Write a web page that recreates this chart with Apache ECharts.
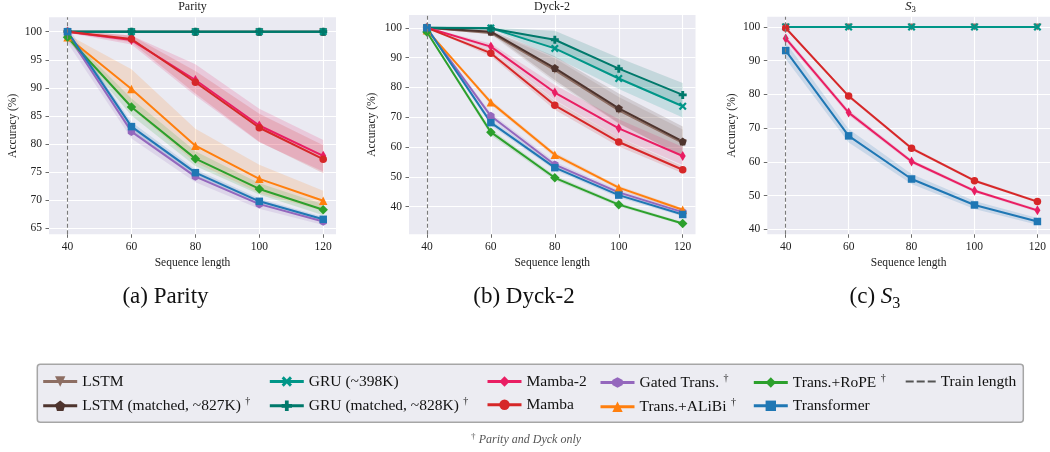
<!DOCTYPE html>
<html><head><meta charset="utf-8">
<script src="https://cdn.jsdelivr.net/npm/echarts@6/dist/echarts.min.js"></script>
<style>html,body{margin:0;padding:0;background:#fff}#c{width:1050px;height:452px}</style>
</head><body><div id="c"></div><script>
// ---------------- DATA ----------------
const SEQ_LEN = [40, 60, 80, 100, 120];
const TRAIN_LEN = 40;
const PARITY_Y_TICKS = [65, 70, 75, 80, 85, 90, 95, 100];
const DYCK_Y_TICKS = [40, 50, 60, 70, 80, 90, 100];
const S3_Y_TICKS = [40, 50, 60, 70, 80, 90, 100];

// Parity (mean, std)
const parity_lstm      = [100, 100, 100, 100, 100];
const parity_lstm_m    = [100, 100, 100, 100, 100];
const parity_gru       = [100, 100, 100, 100, 100];
const parity_gru_m     = [100, 100, 100, 100, 100];
const parity_mamba2    = [100, 98.5, 91.4, 83.3, 77.9];
const parity_mamba2_sd = [0.2, 0.8, 2.8, 3.0, 2.8];
const parity_mamba     = [100, 98.7, 91.0, 82.9, 77.3];
const parity_mamba_sd  = [0.2, 0.6, 2.0, 2.5, 2.5];
const parity_gated     = [99.5, 82.2, 74.2, 69.3, 66.2];
const parity_gated_sd  = [1.5, 1.2, 1.0, 0.8, 0.6];
const parity_alibi     = [99.0, 89.8, 79.7, 73.8, 69.9];
const parity_alibi_sd  = [0.5, 3.5, 3.0, 2.5, 1.8];
const parity_rope      = [99.0, 86.6, 77.4, 72.0, 68.3];
const parity_rope_sd   = [0.5, 1.5, 1.3, 1.0, 1.0];
const parity_trans     = [100, 83.1, 74.9, 69.8, 66.6];
const parity_trans_sd  = [0.3, 0.8, 0.6, 0.5, 0.4];

// Dyck-2 (mean, std)
const dyck_lstm      = [100, 98.3, 85.8, 72.3, 61.4];
const dyck_lstm_sd   = [0.1, 0.5, 4.0, 4.5, 4.5];
const dyck_lstm_m    = [100, 98.7, 86.5, 73.0, 61.9];
const dyck_lstm_m_sd = [0.1, 0.5, 4.0, 5.0, 5.0];
const dyck_gru       = [100, 99.9, 93.1, 83.0, 73.7];
const dyck_gru_sd    = [0.1, 0.2, 3.0, 3.5, 3.8];
const dyck_gru_m     = [100, 99.8, 96.0, 86.3, 77.5];
const dyck_gru_m_sd  = [0.1, 0.2, 3.0, 3.7, 4.0];
const dyck_mamba2    = [100, 93.7, 78.3, 66.3, 57.0];
const dyck_mamba2_sd = [0.1, 1.0, 2.5, 3.0, 3.0];
const dyck_mamba     = [100, 91.5, 74.0, 61.7, 52.4];
const dyck_mamba_sd  = [0.1, 1.0, 1.5, 1.5, 1.2];
const dyck_gated     = [99.8, 70.4, 54.1, 44.8, 38.2];
const dyck_gated_sd  = [0.2, 1.0, 1.0, 0.8, 0.8];
const dyck_alibi     = [99.2, 75.0, 57.4, 46.4, 39.0];
const dyck_alibi_sd  = [0.3, 0.8, 0.8, 0.6, 0.6];
const dyck_rope      = [98.6, 65.0, 49.7, 40.7, 34.4];
const dyck_rope_sd   = [0.5, 1.0, 0.8, 0.6, 0.5];
const dyck_trans     = [100, 68.2, 53.1, 43.9, 37.4];
const dyck_trans_sd  = [0.2, 1.0, 0.8, 0.8, 0.6];

// S3 (mean, std)
const s3_lstm      = [100, 100, 100, 100, 100];
const s3_gru       = [100, 100, 100, 100, 100];
const s3_mamba2    = [96.6, 74.6, 60.1, 51.4, 45.6];
const s3_mamba2_sd = [0.8, 0.8, 0.6, 0.5, 0.5];
const s3_mamba     = [99.7, 79.5, 64.0, 54.4, 48.2];
const s3_mamba_sd  = [0.3, 0.5, 0.5, 0.4, 0.4];
const s3_trans     = [93.0, 67.7, 54.9, 47.2, 42.3];
const s3_trans_sd  = [2.5, 2.0, 1.5, 1.2, 1.0];

const MODEL_NAMES = ['LSTM', 'LSTM (matched, ~827K)', 'GRU (~398K)', 'GRU (matched, ~828K)',
  'Mamba-2', 'Mamba', 'Gated Trans.', 'Trans.+ALiBi', 'Trans.+RoPE', 'Transformer'];
const DAGGER_MODELS = ['LSTM (matched, ~827K)', 'GRU (matched, ~828K)', 'Gated Trans.', 'Trans.+ALiBi', 'Trans.+RoPE'];

const PARITY = {
  'LSTM': [parity_lstm, null], 'LSTM (matched, ~827K)': [parity_lstm_m, null],
  'GRU (~398K)': [parity_gru, null], 'GRU (matched, ~828K)': [parity_gru_m, null],
  'Mamba-2': [parity_mamba2, parity_mamba2_sd], 'Mamba': [parity_mamba, parity_mamba_sd],
  'Gated Trans.': [parity_gated, parity_gated_sd], 'Trans.+ALiBi': [parity_alibi, parity_alibi_sd],
  'Trans.+RoPE': [parity_rope, parity_rope_sd], 'Transformer': [parity_trans, parity_trans_sd]
};
const DYCK = {
  'LSTM': [dyck_lstm, dyck_lstm_sd], 'LSTM (matched, ~827K)': [dyck_lstm_m, dyck_lstm_m_sd],
  'GRU (~398K)': [dyck_gru, dyck_gru_sd], 'GRU (matched, ~828K)': [dyck_gru_m, dyck_gru_m_sd],
  'Mamba-2': [dyck_mamba2, dyck_mamba2_sd], 'Mamba': [dyck_mamba, dyck_mamba_sd],
  'Gated Trans.': [dyck_gated, dyck_gated_sd], 'Trans.+ALiBi': [dyck_alibi, dyck_alibi_sd],
  'Trans.+RoPE': [dyck_rope, dyck_rope_sd], 'Transformer': [dyck_trans, dyck_trans_sd]
};
const S3 = {
  'LSTM': [s3_lstm, null], 'GRU (~398K)': [s3_gru, null],
  'Mamba-2': [s3_mamba2, s3_mamba2_sd], 'Mamba': [s3_mamba, s3_mamba_sd],
  'Transformer': [s3_trans, s3_trans_sd]
};

// ---------------- STYLE / LAYOUT ----------------
const FONT = '"Liberation Serif", "Times New Roman", serif';
const SYM = {
  triDown: 'path://M0,0 L10,0 L5,9 Z',
  pentagon: 'path://M5,0 L10,3.8 L8.1,10 L1.9,10 L0,3.8 Z',
  xFilled: 'path://M2,0 L5,3 L8,0 L10,2 L7,5 L10,8 L8,10 L5,7 L2,10 L0,8 L3,5 L0,2 Z',
  plus: 'path://M3.2,0 H6.8 V3.2 H10 V6.8 H6.8 V10 H3.2 V6.8 H0 V3.2 H3.2 Z',
  hexagon: 'path://M5,0 L9.33,2.5 L9.33,7.5 L5,10 L0.67,7.5 L0.67,2.5 Z',
  thinDiamond: 'path://M3,0 L6,5 L3,10 L0,5 Z',
  dash3: 'path://M0,0 H8 V2 H0 Z M11,0 H19 V2 H11 Z M22,0 H30 V2 H22 Z'
};
const STYLE = {
  'LSTM': { color: '#8d6e63', symbol: SYM.triDown, size: 8 },
  'LSTM (matched, ~827K)': { color: '#4e342e', symbol: SYM.pentagon, size: 8 },
  'GRU (~398K)': { color: '#009688', symbol: SYM.xFilled, size: 8 },
  'GRU (matched, ~828K)': { color: '#00796b', symbol: SYM.plus, size: 8 },
  'Mamba-2': { color: '#e91e63', symbol: SYM.thinDiamond, size: 10 },
  'Mamba': { color: '#d62728', symbol: 'circle', size: 7.5 },
  'Gated Trans.': { color: '#9467bd', symbol: SYM.hexagon, size: 8.5 },
  'Trans.+ALiBi': { color: '#ff7f0e', symbol: 'triangle', size: 8.5 },
  'Trans.+RoPE': { color: '#2ca02c', symbol: 'diamond', size: 9.5 },
  'Transformer': { color: '#1f77b4', symbol: 'rect', size: 7.5 }
};
const PANELS = [
  { data: PARITY, grid: { left: 49, top: 17.3, width: 287, height: 217 }, x: [34.2, 124], y: [63.93, 102.56], yTicks: PARITY_Y_TICKS, yGap: 30 },
  { data: DYCK, grid: { left: 409, top: 15, width: 286.5, height: 219.3 }, x: [34.4, 124], y: [30.75, 104.3], yTicks: DYCK_Y_TICKS, yGap: 31 },
  { data: S3, grid: { left: 767.3, top: 16.7, width: 287, height: 217.6 }, x: [34.15, 124], y: [38.5, 103.05], yTicks: S3_Y_TICKS, yGap: 29.5 }
];

function rgba(hex, a) {
  const v = parseInt(hex.slice(1), 16);
  return 'rgba(' + (v >> 16 & 255) + ',' + (v >> 8 & 255) + ',' + (v & 255) + ',' + a + ')';
}

const TXT = '#222';
const grids = [], xAxes = [], yAxes = [], series = [];
PANELS.forEach((p, g) => {
  grids.push(Object.assign({ show: true, backgroundColor: '#eaeaf2', borderWidth: 0 }, p.grid));
  xAxes.push({
    type: 'value', gridIndex: g, min: p.x[0], max: p.x[1],
    name: 'Sequence length', nameLocation: 'middle', nameGap: 23,
    nameTextStyle: { fontFamily: FONT, fontSize: 11.5, color: TXT },
    axisLine: { show: false },
    axisTick: { show: true, length: 3.5, lineStyle: { color: '#444', width: 0.8 }, customValues: SEQ_LEN },
    axisLabel: { customValues: SEQ_LEN, fontFamily: FONT, fontSize: 11.5, color: TXT, margin: 7 },
    splitLine: { show: true, lineStyle: { color: '#ffffff', width: 1.1 } }
  });
  yAxes.push({
    type: 'value', gridIndex: g, min: p.y[0], max: p.y[1],
    name: 'Accuracy (%)', nameLocation: 'middle', nameGap: p.yGap,
    nameTextStyle: { fontFamily: FONT, fontSize: 11.5, color: TXT },
    axisLine: { show: false },
    axisTick: { show: true, length: 3.5, lineStyle: { color: '#444', width: 0.8 }, customValues: p.yTicks },
    axisLabel: { customValues: p.yTicks, fontFamily: FONT, fontSize: 11.5, color: TXT, margin: 7 },
    splitLine: { show: true, lineStyle: { color: '#ffffff', width: 1.1 } }
  });
  // train length marker
  series.push({
    name: 'Train length', type: 'line', xAxisIndex: g, yAxisIndex: g, data: [], symbol: 'none',
    itemStyle: { color: '#7f7f7f' }, lineStyle: { type: 'dashed', color: '#7f7f7f' }, z: 3,
    markLine: { silent: true, symbol: 'none', label: { show: false },
      lineStyle: { type: [4, 2.5], color: '#7a7a7a', width: 1.1 }, data: [{ xAxis: TRAIN_LEN }] }
  });
  // std bands
  MODEL_NAMES.forEach((name) => {
    const d = p.data[name]; if (!d || !d[1]) return;
    const mean = d[0], sd = d[1], fill = rgba(STYLE[name].color, 0.16);
    series.push({
      name: '_band', type: 'custom', xAxisIndex: g, yAxisIndex: g, silent: true, z: 1, clip: true,
      encode: { x: 0, y: [1, 2] },
      data: SEQ_LEN.map((x, i) => [x, mean[i] - sd[i], mean[i] + sd[i]]),
      renderItem: (params, api) => {
        if (params.dataIndexInside !== 0) return null;
        const n = params.dataInsideLength, top = [], bot = [];
        for (let i = 0; i < n; i++) {
          top.push(api.coord([api.value(0, i), api.value(2, i)]));
          bot.push(api.coord([api.value(0, i), api.value(1, i)]));
        }
        return { type: 'polygon', silent: true, shape: { points: top.concat(bot.reverse()) }, style: { fill } };
      }
    });
  });
  MODEL_NAMES.forEach(name => {
    const d = p.data[name]; if (!d) return;
    const st = STYLE[name];
    series.push({
      name, type: 'line', xAxisIndex: g, yAxisIndex: g, z: 4,
      symbol: st.symbol, symbolSize: st.size, symbolKeepAspect: true,
      itemStyle: { color: st.color }, lineStyle: { color: st.color, width: 2 },
      emphasis: { disabled: true },
      data: SEQ_LEN.map((x, i) => [x, d[0][i]])
    });
  });
});

const LEGEND_COLS = [
  ['LSTM', 'LSTM (matched, ~827K)'],
  ['GRU (~398K)', 'GRU (matched, ~828K)'],
  ['Mamba-2', 'Mamba'],
  ['Gated Trans.', 'Trans.+ALiBi'],
  ['Trans.+RoPE', 'Transformer'],
  ['Train length']
];
const LEGEND_LEFT = [41.7, 268.3, 486, 599, 752.3, 905.7];
const legends = LEGEND_COLS.map((col, i) => ({
  orient: 'vertical', left: LEGEND_LEFT[i], top: 373.5, padding: 0,
  itemWidth: col[0] === 'Train length' ? 30 : 34, itemHeight: 13, itemGap: 7.3,
  selectedMode: false,
  lineStyle: { width: 3 },
  data: col.map(n => n === 'Train length' ? { name: n, icon: SYM.dash3, itemStyle: { color: '#555' } } : n),
  formatter: n => DAGGER_MODELS.indexOf(n) >= 0 ? '{t|' + n + '}{s| †}' : '{t|' + n + '}',
  textStyle: { fontFamily: FONT, fontSize: 15.5, color: '#111',
    rich: { t: { fontFamily: FONT, fontSize: 15.5, color: '#111', lineHeight: 18 },
            s: { fontFamily: FONT, fontSize: 10, color: '#111', verticalAlign: 'top', padding: [0, 0, 0, 2] } } }
}));

const subRich = (fs) => ({
  n: { fontFamily: FONT, fontSize: fs, fill: '#111', lineHeight: fs * 1.3 },
  i: { fontFamily: FONT, fontStyle: 'italic', fontSize: fs, fill: '#111', lineHeight: fs * 1.3 },
  b: { fontFamily: FONT, fontSize: fs * 0.7, fill: '#111', verticalAlign: 'bottom' }
});

const graphics = [
  { type: 'rect', z: 0, shape: { x: 37.3, y: 364.3, width: 986, height: 58, r: 3 },
    style: { fill: '#ececf2', stroke: '#a6a6a6', lineWidth: 1.5 } },
  { type: 'text', x: 192.5, y: 6.5, style: { text: 'Parity', fontFamily: FONT, fontSize: 12, fill: TXT, align: 'center', verticalAlign: 'middle' } },
  { type: 'text', x: 552, y: 6.5, style: { text: 'Dyck-2', fontFamily: FONT, fontSize: 12, fill: TXT, align: 'center', verticalAlign: 'middle' } },
  { type: 'text', x: 910.5, y: 6.5, style: { text: '{i|S}{b|3}', rich: subRich(12.5), align: 'center', verticalAlign: 'middle' } },
  { type: 'text', x: 165.5, y: 297, style: { text: '{n|(a) Parity}', rich: subRich(23), align: 'center', verticalAlign: 'middle' } },
  { type: 'text', x: 524, y: 297, style: { text: '{n|(b) Dyck-2}', rich: subRich(23), align: 'center', verticalAlign: 'middle' } },
  { type: 'text', x: 875, y: 297, style: { text: '{n|(c) }{i|S}{b|3}', rich: subRich(23), align: 'center', verticalAlign: 'middle' } },
  { type: 'text', x: 526, y: 440, style: { text: '{s|†} {t|Parity and Dyck only}', align: 'center', verticalAlign: 'middle',
      rich: { s: { fontFamily: FONT, fontSize: 9, fill: '#555', verticalAlign: 'top' },
              t: { fontFamily: FONT, fontStyle: 'italic', fontSize: 12, fill: '#555', lineHeight: 16 } } } }
];

const chart = echarts.init(document.getElementById('c'), null, { renderer: 'canvas' });
chart.setOption({
  animation: false,
  backgroundColor: '#ffffff',
  textStyle: { fontFamily: FONT },
  grid: grids, xAxis: xAxes, yAxis: yAxes,
  legend: legends,
  graphic: graphics,
  series
});
</script></body></html>
